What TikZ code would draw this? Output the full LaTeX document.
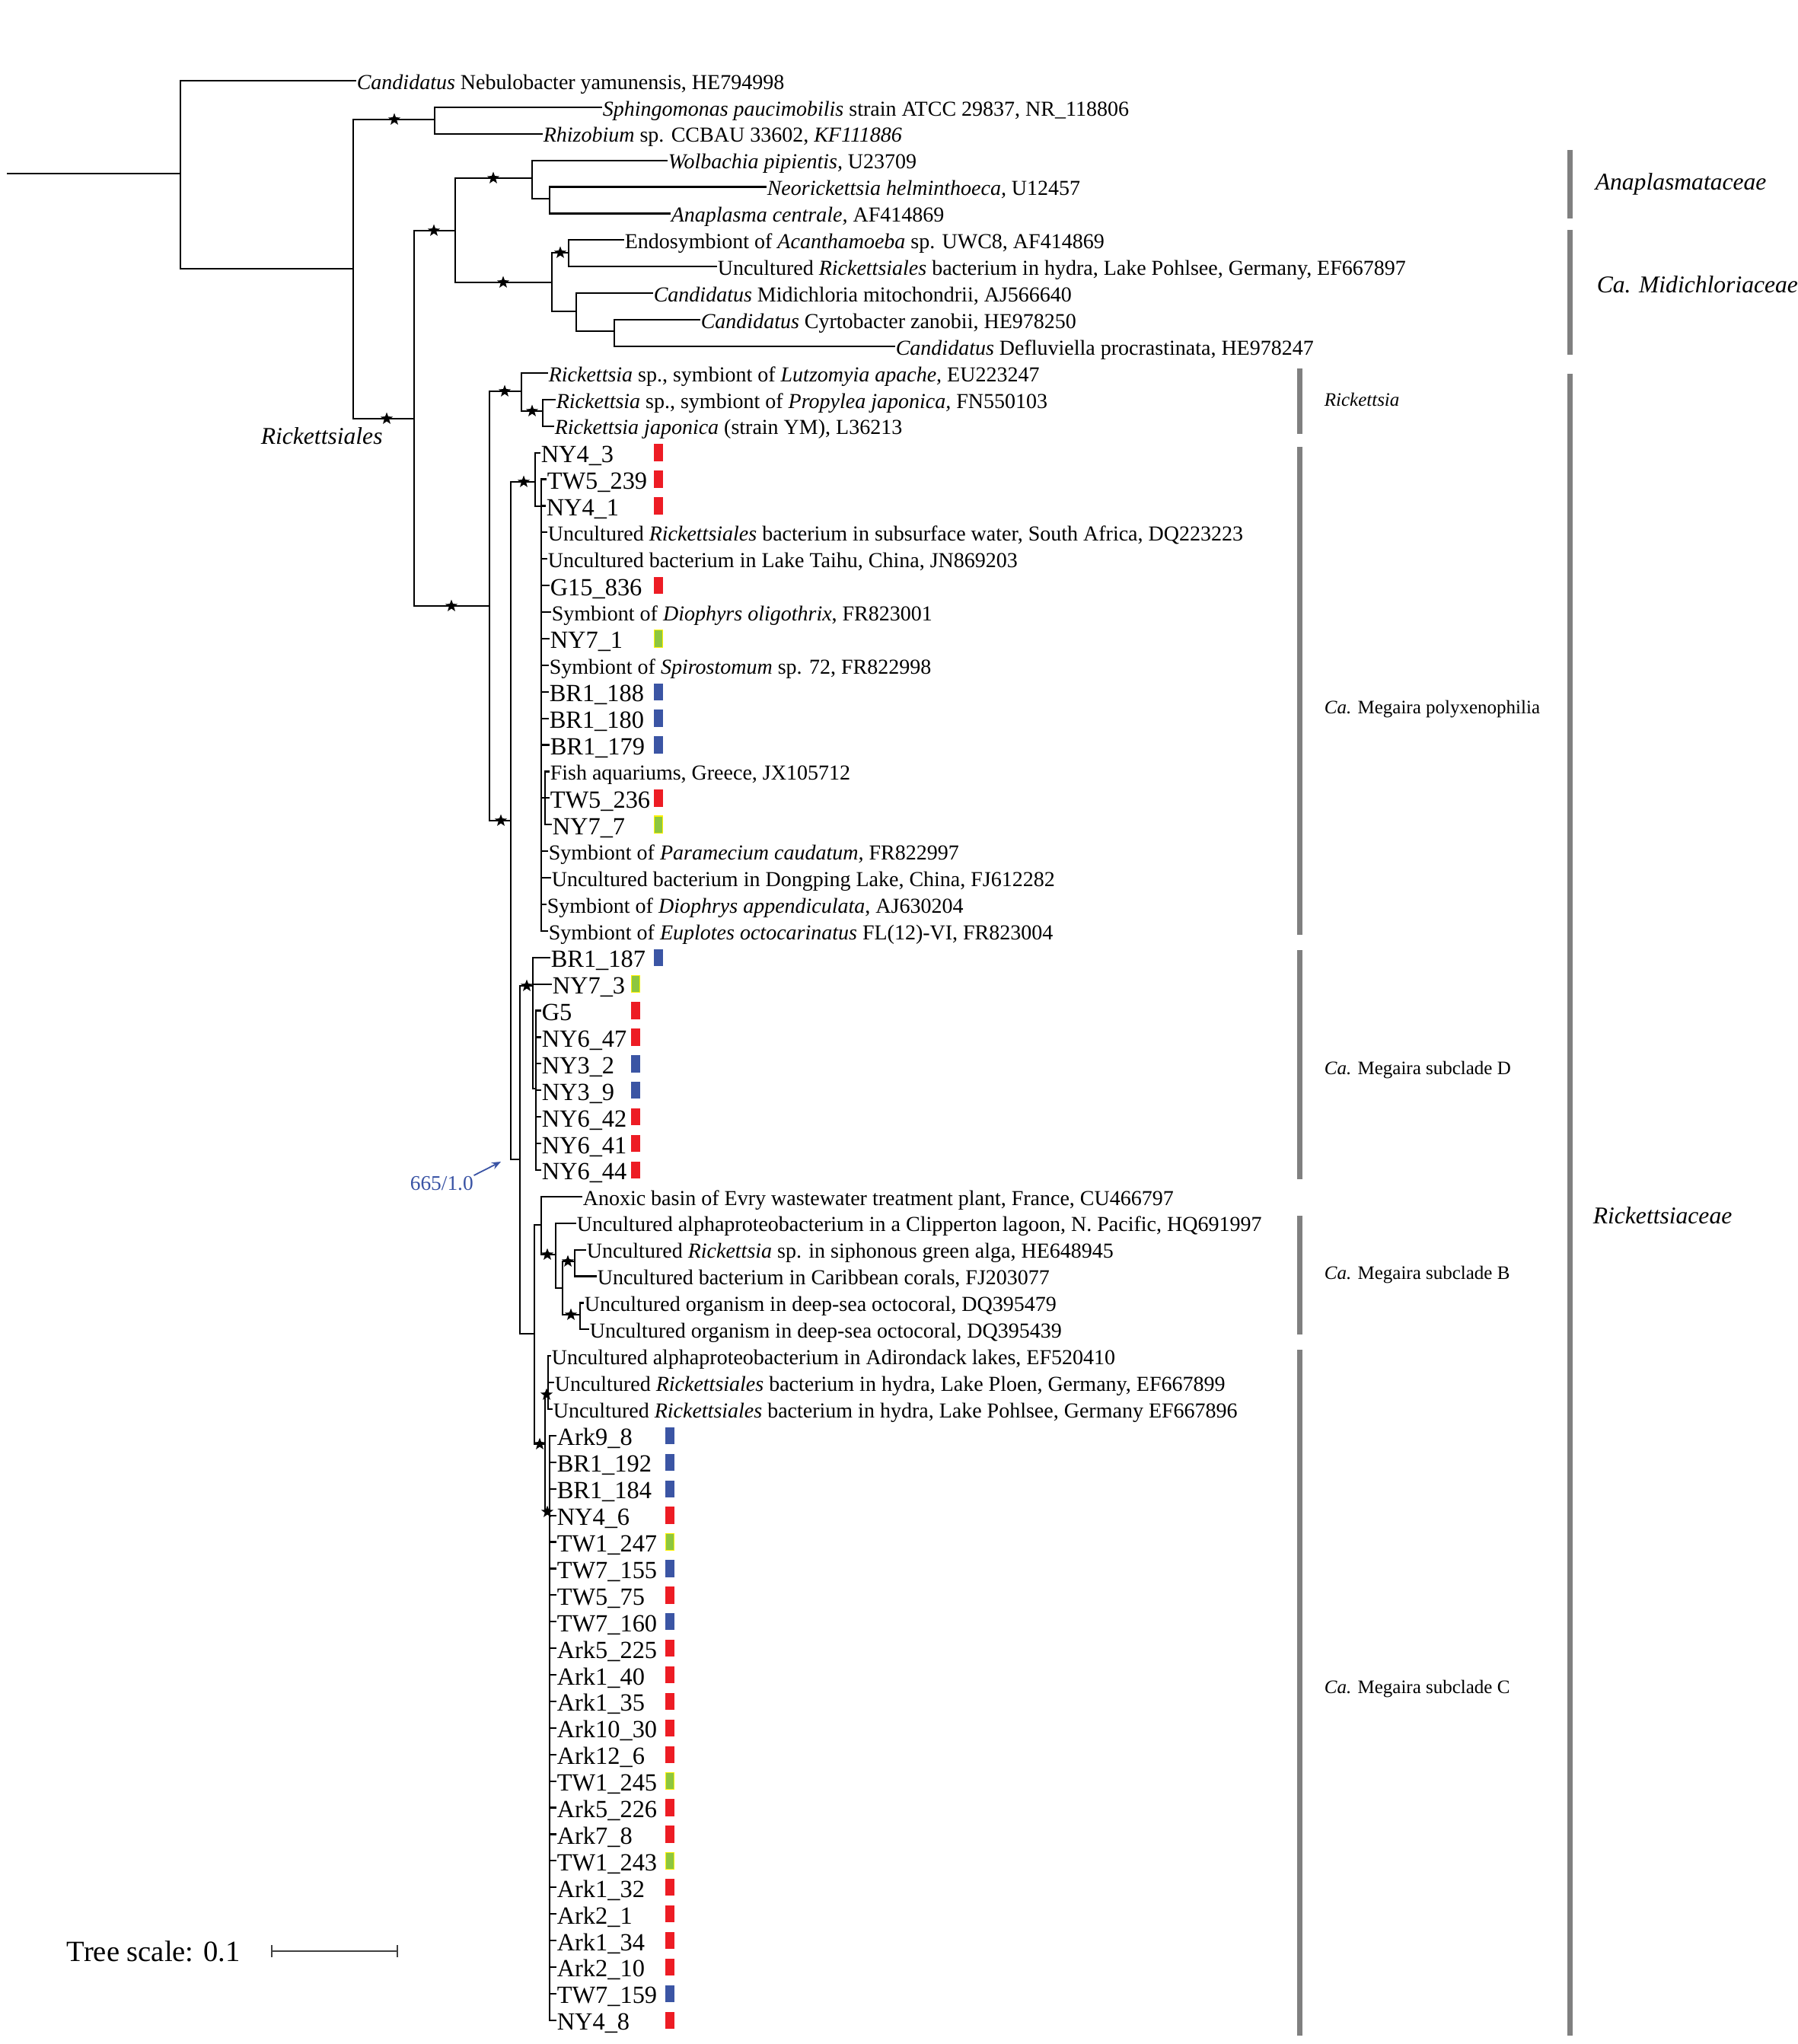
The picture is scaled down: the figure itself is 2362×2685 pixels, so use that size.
\documentclass[tikz,border=0pt]{standalone}
\usepackage{fontspec}
\setmainfont{Liberation Serif}
\usetikzlibrary{shapes.geometric,arrows.meta}
\definecolor{idred}{RGB}{237,28,36}
\definecolor{idblue}{RGB}{59,85,164}
\definecolor{idgreen}{RGB}{141,198,63}
\definecolor{idyellow}{RGB}{255,242,0}
\definecolor{cladegray}{RGB}{128,128,128}
\definecolor{bootblue}{RGB}{57,83,164}
\begin{document}
\begin{tikzpicture}[x=0.25pt, y=-0.25pt,
    br/.style={line width=0.55pt, black},
    lab/.style={anchor=west, inner sep=0pt, font=\fontsize{7}{8}\selectfont, text height=7pt, text depth=1.4pt},
    sid/.style={anchor=west, inner sep=0pt, font=\fontsize{8.1}{9}\selectfont, text height=8.1pt, text depth=1.6pt},
    bs/.style={star, star points=5, star point ratio=2.4, fill=black, inner sep=0pt, minimum size=4.2pt},
    sq/.style={rectangle, inner sep=0pt, minimum width=2.8pt, minimum height=5.6pt},
    sqr/.style={sq, fill=idred},
    sqb/.style={sq, fill=idblue},
    sqg/.style={sq, fill=idgreen, draw=idyellow, line width=0.3pt},
    bar/.style={line width=1.75pt, cladegray},
    cl/.style={anchor=base west, inner sep=0pt, font=\fontsize{7.9}{9}\selectfont\itshape},
    scl/.style={anchor=base west, inner sep=0pt, font=\fontsize{6.25}{7}\selectfont}]
    \useasboundingbox (0,0) rectangle (2362,2685);

    % Internal nodes of the tree
    \coordinate (base) at (9,228);
    \coordinate (n0) at (237,228);
    \coordinate (n1) at (464,353);
    \coordinate (n2) at (571,157);
    \coordinate (n3) at (544,550);
    \coordinate (n4) at (598,303);
    \coordinate (anap) at (699,234);
    \coordinate (neo) at (722,261);
    \coordinate (midi) at (725,371);
    \coordinate (endo) at (747,332);
    \coordinate (cand) at (757,409);
    \coordinate (cyrt) at (807,435);
    \coordinate (n5) at (643,796);
    \coordinate (rick) at (685,514);
    \coordinate (rjap) at (713,540);
    \coordinate (n6) at (671,1078);
    \coordinate (poly) at (703,633);
    \coordinate (poly2) at (711,665);
    \coordinate (fish) at (716,1048);
    \coordinate (n7) at (683,1523);
    \coordinate (subd) at (700,1295);
    \coordinate (subd2) at (704,1430);
    \coordinate (nbc) at (702,1752);
    \coordinate (subb) at (711,1609);
    \coordinate (b2) at (730,1648);
    \coordinate (b3) at (739,1692);
    \coordinate (b4) at (755,1657);
    \coordinate (b5) at (762,1727);
    \coordinate (subc) at (716,1897);
    \coordinate (c1) at (720,1832);
    \coordinate (c2) at (722,1986);

    % Outgroups, Anaplasmataceae, Midichloriaceae
    \node[lab] (l1) at (468,106) {\textit{Candidatus} Nebulobacter yamunensis, HE794998};
    \node[lab] (l2) at (791,140.9) {\textit{Sphingomonas paucimobilis} strain ATCC 29837, NR\_118806};
    \node[lab] (l3) at (713,175.8) {\textit{Rhizobium} sp. CCBAU 33602, \textit{KF111886}};
    \node[lab] (l4) at (877,210.7) {\textit{Wolbachia pipientis,} U23709};
    \node[lab] (l5) at (1007,245.6) {\textit{Neorickettsia helminthoeca,} U12457};
    \node[lab] (l6) at (881,280.5) {\textit{Anaplasma centrale,} AF414869};
    \node[lab] (l7) at (820,315.4) {Endosymbiont of \textit{Acanthamoeba} sp. UWC8, AF414869};
    \node[lab] (l8) at (942,350.3) {Uncultured \textit{Rickettsiales} bacterium in hydra, Lake Pohlsee, Germany, EF667897};
    \node[lab] (l9) at (858,385.2) {\textit{Candidatus} Midichloria mitochondrii, AJ566640};
    \node[lab] (l10) at (920,420.1) {\textit{Candidatus} Cyrtobacter zanobii, HE978250};
    \node[lab] (l11) at (1176,455) {\textit{Candidatus} Defluviella procrastinata, HE978247};

    % Rickettsia
    \node[lab] (l12) at (720,489.9) {\textit{Rickettsia} sp., symbiont of \textit{Lutzomyia apache,} EU223247};
    \node[lab] (l13) at (730,524.8) {\textit{Rickettsia} sp., symbiont of \textit{Propylea japonica,} FN550103};
    \node[lab] (l14) at (728,559.7) {\textit{Rickettsia japonica} (strain YM), L36213};

    % Ca. Megaira polyxenophilia
    \node[sid] (l15) at (710,594.6) {NY4\_3};
    \node[sid] (l16) at (718,629.5) {TW5\_239};
    \node[sid] (l17) at (717,664.4) {NY4\_1};
    \node[lab] (l18) at (719,699.3) {Uncultured \textit{Rickettsiales} bacterium in subsurface water, South Africa, DQ223223};
    \node[lab] (l19) at (719,734.2) {Uncultured bacterium in Lake Taihu, China, JN869203};
    \node[sid] (l20) at (722,769.1) {G15\_836};
    \node[lab] (l21) at (724,804) {Symbiont of \textit{Diophyrs oligothrix}, FR823001};
    \node[sid] (l22) at (722,838.9) {NY7\_1};
    \node[lab] (l23) at (721,873.8) {Symbiont of \textit{Spirostomum} sp. 72, FR822998};
    \node[sid] (l24) at (721,908.7) {BR1\_188};
    \node[sid] (l25) at (721,943.6) {BR1\_180};
    \node[sid] (l26) at (722,978.5) {BR1\_179};
    \node[lab] (l27) at (722,1013.4) {Fish aquariums, Greece, JX105712};
    \node[sid] (l28) at (722,1048.3) {TW5\_236};
    \node[sid] (l29) at (725,1083.2) {NY7\_7};
    \node[lab] (l30) at (720,1118.1) {Symbiont of \textit{Paramecium caudatum,} FR822997};
    \node[lab] (l31) at (724,1153) {Uncultured bacterium in Dongping Lake, China, FJ612282};
    \node[lab] (l32) at (718,1187.9) {Symbiont of \textit{Diophrys appendiculata}, AJ630204};
    \node[lab] (l33) at (720,1222.8) {Symbiont of \textit{Euplotes octocarinatus} FL(12)-VI, FR823004};

    % Ca. Megaira subclade D
    \node[sid] (l34) at (723,1257.7) {BR1\_187};
    \node[sid] (l35) at (725,1292.6) {NY7\_3};
    \foreach \i/\nm in {36/G5, 37/NY6\_47, 38/NY3\_2, 39/NY3\_9, 40/NY6\_42, 41/NY6\_41, 42/NY6\_44}
        \node[sid] (l\i) at (711,{106+(\i-1)*34.9}) {\nm};

    % Ca. Megaira subclade B
    \node[lab] (l43) at (765,1571.8) {Anoxic basin of Evry wastewater treatment plant, France, CU466797};
    \node[lab] (l44) at (757,1606.7) {Uncultured alphaproteobacterium in a Clipperton lagoon, N. Pacific, HQ691997};
    \node[lab] (l45) at (770,1641.6) {Uncultured \textit{Rickettsia} sp. in siphonous green alga, HE648945};
    \node[lab] (l46) at (784,1676.5) {Uncultured bacterium in Caribbean corals, FJ203077};
    \node[lab] (l47) at (767,1711.4) {Uncultured organism in deep-sea octocoral, DQ395479};
    \node[lab] (l48) at (774,1746.3) {Uncultured organism in deep-sea octocoral, DQ395439};

    % Ca. Megaira subclade C
    \node[lab] (l49) at (724,1781.2) {Uncultured alphaproteobacterium in Adirondack lakes, EF520410};
    \node[lab] (l50) at (728,1816.1) {Uncultured \textit{Rickettsiales} bacterium in hydra, Lake Ploen, Germany, EF667899};
    \node[lab] (l51) at (726,1851) {Uncultured \textit{Rickettsiales} bacterium in hydra, Lake Pohlsee, Germany EF667896};
    \foreach \i/\nm in {52/Ark9\_8, 53/BR1\_192, 54/BR1\_184, 55/NY4\_6, 56/TW1\_247, 57/TW7\_155,
        58/TW5\_75, 59/TW7\_160, 60/Ark5\_225, 61/Ark1\_40, 62/Ark1\_35, 63/Ark10\_30, 64/Ark12\_6,
        65/TW1\_245, 66/Ark5\_226, 67/Ark7\_8, 68/TW1\_243, 69/Ark1\_32, 70/Ark2\_1, 71/Ark1\_34,
        72/Ark2\_10, 73/TW7\_159, 74/NY4\_8}
        \node[sid] (l\i) at (731,{106+(\i-1)*34.9}) {\nm};

    % Branches
    \draw[br] (base) -- (n0);
    \draw[br] (n0) |- (l1.west);
    \draw[br] (n0) |- (n1);
    \draw[br] (n1) |- (n2);
    \draw[br] (n1) |- (n3);
    \draw[br] (n2) |- (l2.west);
    \draw[br] (n2) |- (l3.west);
    \draw[br] (n3) |- (n4);
    \draw[br] (n3) |- (n5);
    \draw[br] (n4) |- (anap);
    \draw[br] (n4) |- (midi);
    \draw[br] (anap) |- (l4.west);
    \draw[br] (anap) |- (neo);
    \draw[br] (neo) |- (l5.west);
    \draw[br] (neo) |- (l6.west);
    \draw[br] (midi) |- (endo);
    \draw[br] (midi) |- (cand);
    \draw[br] (endo) |- (l7.west);
    \draw[br] (endo) |- (l8.west);
    \draw[br] (cand) |- (l9.west);
    \draw[br] (cand) |- (cyrt);
    \draw[br] (cyrt) |- (l10.west);
    \draw[br] (cyrt) |- (l11.west);
    \draw[br] (n5) |- (rick);
    \draw[br] (n5) |- (n6);
    \draw[br] (rick) |- (l12.west);
    \draw[br] (rick) |- (rjap);
    \draw[br] (rjap) |- (l13.west);
    \draw[br] (rjap) |- (l14.west);
    \draw[br] (n6) |- (poly);
    \draw[br] (n6) |- (n7);
    \draw[br] (poly) |- (l15.west);
    \draw[br] (poly) |- (poly2);
    \foreach \i in {16,...,26,30,31,32,33}
        \draw[br] (poly2) |- (l\i.west);
    \draw[br] (poly2) |- (fish);
    \foreach \i in {27,28,29}
        \draw[br] (fish) |- (l\i.west);
    \draw[br] (n7) |- (subd);
    \draw[br] (n7) |- (nbc);
    \draw[br] (subd) |- (l34.west);
    \draw[br] (subd) |- (l35.west);
    \draw[br] (subd) |- (subd2);
    \foreach \i in {36,...,42}
        \draw[br] (subd2) |- (l\i.west);
    \draw[br] (nbc) |- (subb);
    \draw[br] (nbc) |- (subc);
    \draw[br] (subb) |- (l43.west);
    \draw[br] (subb) |- (b2);
    \draw[br] (b2) |- (l44.west);
    \draw[br] (b2) |- (b3);
    \draw[br] (b3) |- (b4);
    \draw[br] (b3) |- (b5);
    \draw[br] (b4) |- (l45.west);
    \draw[br] (b4) |- (l46.west);
    \draw[br] (b5) |- (l47.west);
    \draw[br] (b5) |- (l48.west);
    \draw[br] (subc) |- (c1);
    \draw[br] (subc) |- (c2);
    \foreach \i in {49,50,51}
        \draw[br] (c1) |- (l\i.west);
    \foreach \i in {52,...,74}
        \draw[br] (c2) |- (l\i.west);

    % Support stars
    \foreach \sx/\sy [count=\k] in {518/157, 508/550, 570/303, 648/234, 661/371, 736/332, 593/796,
        663/514, 699/540, 688/633, 658/1078, 692/1295, 719/1648, 746/1657, 750/1727,
        709/1897, 718/1832, 719/1986}
        \node[bs] (s\k) at (\sx,\sy) {};

    % Sample colour marks
    \foreach \i/\col/\qx in {15/sqr/865, 16/sqr/865, 17/sqr/865, 20/sqr/865, 22/sqg/865, 24/sqb/865,
        25/sqb/865, 26/sqb/865, 28/sqr/865, 29/sqg/865,
        34/sqb/865, 35/sqg/835, 36/sqr/835, 37/sqr/835, 38/sqb/835, 39/sqb/835, 40/sqr/835,
        41/sqr/835, 42/sqr/835,
        52/sqb/880, 53/sqb/880, 54/sqb/880, 55/sqr/880, 56/sqg/880, 57/sqb/880, 58/sqr/880,
        59/sqb/880, 60/sqr/880, 61/sqr/880, 62/sqr/880, 63/sqr/880, 64/sqr/880, 65/sqg/880,
        66/sqr/880, 67/sqr/880, 68/sqg/880, 69/sqr/880, 70/sqr/880, 71/sqr/880, 72/sqr/880,
        73/sqb/880, 74/sqr/880}
        \node[\col] (q\i) at (\qx,{106+(\i-1)*34.9}) {};

    % Clade bars and names
    \draw[bar] (2062,197) -- (2062,287);
    \draw[bar] (2062,302) -- (2062,466);
    \draw[bar] (2062,491) -- (2062,2674);
    \draw[bar] (1707,484) -- (1707,570);
    \draw[bar] (1707,587) -- (1707,1228);
    \draw[bar] (1707,1248) -- (1707,1549);
    \draw[bar] (1707,1597) -- (1707,1753);
    \draw[bar] (1707,1773) -- (1707,2674);
    \node[cl] (anaplasmataceae) at (2095,250) {Anaplasmataceae};
    \node[cl] (midichloriaceae) at (2097,385) {Ca. Midichloriaceae};
    \node[cl] (rickettsiaceae) at (2092,1607) {Rickettsiaceae};
    \node[cl] (rickettsiales) at (342,583) {Rickettsiales};
    \node[scl] (cRick) at (1739,533) {\textit{Rickettsia}};
    \node[scl] (cPoly) at (1739,937) {\textit{Ca.} Megaira polyxenophilia};
    \node[scl] (cSubD) at (1739,1411) {\textit{Ca.} Megaira subclade D};
    \node[scl] (cSubB) at (1739,1680) {\textit{Ca.} Megaira subclade B};
    \node[scl] (cSubC) at (1739,2224) {\textit{Ca.} Megaira subclade C};

    % Support value of the Megaira node
    \node[anchor=base west, inner sep=0pt, text=bootblue, font=\fontsize{6.85}{8}\selectfont] (boot) at (538,1563) {665/1.0};
    \coordinate (bootend) at (658,1526);
    \draw[-{Stealth[length=3pt,width=2.4pt]}, bootblue, line width=0.45pt] (boot.north east) -- (bootend);

    % Scale bar
    \node[anchor=base west, inner sep=0pt, font=\fontsize{9.65}{11}\selectfont] (tscale) at (87,2576) {Tree scale: 0.1};
    \coordinate (sb1) at (357,2563);
    \coordinate (sb2) at (522,2563);
    \draw[line width=0.6pt, black!75] (sb1) -- (sb2);
    \draw[line width=0.6pt, black!75] (357,2555) -- (357,2571);
    \draw[line width=0.6pt, black!75] (522,2555) -- (522,2571);
\end{tikzpicture}
\end{document}
